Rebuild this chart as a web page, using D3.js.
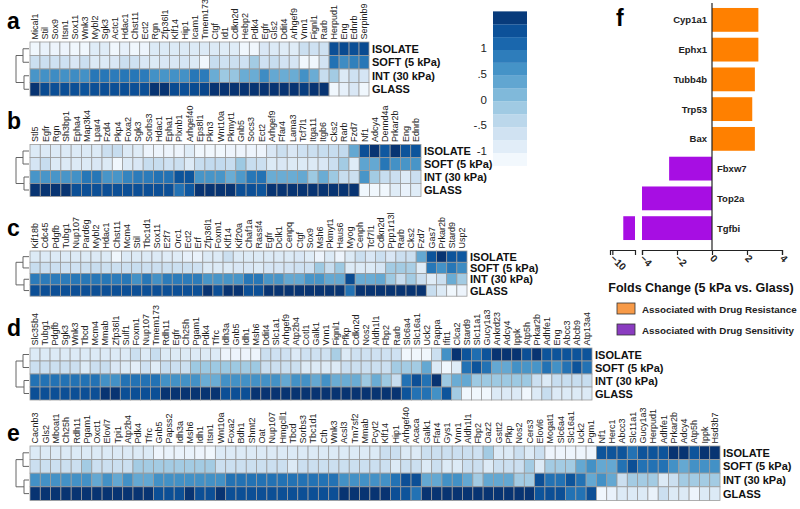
<!DOCTYPE html>
<html><head><meta charset="utf-8">
<script src="https://cdn.jsdelivr.net/npm/d3@7"></script>
<style>body{margin:0;background:#fff}svg{display:block;font-family:Arial,"Liberation Sans",sans-serif}</style>
</head><body><svg id="chart" width="800" height="509"></svg>
<script>
const conditions = ["ISOLATE","SOFT (5 kPa)","INT (30 kPa)","GLASS"];

const genesA = ["Mical1","Stil","Sox9","Itsn1","Sox11","Wnk3","Mybl2","Sgk3","Actc1","Hdac1","Chst11","Ect2","Rgn","Zfp36l1","Klf14","Hip1","Icam1","Tmem173","Ctgf","Id1","Cdkn2d","Hebp2","Pdk4","Egfr","Gls2","Ddit4","Arhgef9","Vnn1","Fignl1","Rarb","Herpud1","Eng","Ednrb","Serpinb9"];
const isolateA = [-1.1,-1.0,-1.05,-1.05,-1.1,-1.1,-0.85,-0.85,-1.1,-0.95,-1.1,-1.05,-0.8,-0.8,-0.8,-0.8,-0.8,-0.8,-0.8,-0.85,-0.85,-1.1,-1.1,-0.75,-0.8,-0.85,-0.85,-0.55,-0.6,-0.6,1.4,1.45,1.4,1.45];
const softA = [-0.55,-0.55,-0.6,-0.6,-0.75,-0.55,-0.8,-0.8,-0.75,-0.55,-0.6,-0.75,-0.8,-0.75,-0.75,-0.7,-0.8,-1.1,-0.5,-0.6,-0.55,-0.6,-0.15,-0.6,-0.5,-0.65,-0.7,-1.1,-1.1,-0.65,1.0,0.7,0.85,0.95];
const intA = [0.6,0.65,0.7,0.65,0.7,0.65,0.95,0.95,0.9,0.95,0.95,0.9,0.65,0.6,0.65,0.65,0.95,0.9,0.3,-0.1,-0.05,0.3,0.3,0.7,0.35,0.3,0.3,0.65,0.3,-0.5,-0.15,-0.8,-0.6,-0.7];
const glassA = [1.7,1.45,1.4,1.4,1.4,1.35,1.4,1.4,1.4,1.4,1.4,1.4,1.7,1.7,1.45,1.4,1.45,1.5,1.7,1.7,1.7,1.7,1.7,1.7,1.7,1.7,1.7,1.6,1.7,1.7,-1.1,-0.95,-0.75,-1.1];

const genesB = ["Stl5","Egfr","Rgn","Sh3bp1","Epha4","Map3k4","Lpar4","Fzd4","Pkp4","Foxa2","Sgk3","Sorbs3","Hdac1","Epha1","Plxnb1","Arhgef40","Eps8l1","Pkn3","Wnt10a","Pkmyt1","Gnb5","Socs3","Ect2","Arhgef9","Ffar4","Lama3","Tcf7l1","Itga11","Itgb6","Cks2","Rarb","Fzd7","Nf1","Adcy4","Dennd4a","Prkar2b","Eng","Ednrb"];
const isolateB = [-0.8,-0.8,-0.8,-0.8,-0.8,-0.8,-0.8,-0.55,-0.5,-0.8,-0.85,-1.05,-1.05,-1.05,-1.05,-0.85,-1.1,-1.1,-1.1,-1.05,-1.05,-1.05,-1.05,-0.75,-0.55,-0.75,-0.6,-0.55,-0.5,-0.5,-0.45,0.35,1.4,1.7,1.3,1.7,1.35,1.35];
const softB = [-0.7,-0.5,-0.8,-0.8,-0.8,-0.8,-0.75,-0.8,-1.1,-0.8,-0.75,-0.5,-0.5,-0.6,-0.55,-0.8,-0.5,-0.45,-0.45,-0.5,-0.1,-0.5,-0.55,-0.8,-0.75,-0.8,-0.8,-0.8,-0.75,-0.55,-0.15,-0.85,0.4,0.35,0.95,0.65,0.6,0.6];
const intB = [0.6,0.6,0.6,0.6,0.65,0.95,0.95,0.6,0.6,0.8,0.9,0.9,1.0,1.0,1.35,1.35,0.6,0.6,0.6,0.3,0.55,0.95,1.0,0.3,0.3,0.3,0.35,-0.1,0.3,-0.1,-0.5,-0.55,0.6,-0.15,-0.5,-0.55,-0.8,-0.55];
const glassB = [1.7,1.7,1.7,1.7,1.4,1.4,1.4,1.4,1.4,1.4,1.4,1.4,1.4,1.4,1.0,1.3,1.7,1.7,1.7,1.7,1.4,1.4,1.35,1.7,1.7,1.7,1.7,1.7,1.7,1.7,1.7,1.7,-1.1,-1.1,-1.1,-0.85,-1.0,-0.85];

const genesC = ["Kif18b","Cdc45","Pdgfb","Tubg1","Nup107","Pard6g","Mybl2","Hdac1","Chst11","Mcm4","Stil","Tbc1d1","Sox11","E2f7","Orc1","Ect2","Erf","Zfp36l1","Foxm1","Klf14","Kif20a","Chaf1a","Rassf4","Egfr","Dclk1","Cenpq","Ctgf","Sox9","Msh6","Pkmyt1","Haus6","Myog","Cenph","Tcf7l1","Cdkn2d","Ppp1r13l","Rarb","Cks2","Fzd7","Gas7","Prkar2b","Stard9","Usp2"];
const isolateC = [-0.8,-0.8,-0.8,-0.8,-0.8,-0.8,-0.8,-0.8,-1.1,-0.8,-0.8,-0.8,-0.8,-0.85,-0.85,-0.95,-1.0,-0.8,-0.8,-0.55,-0.8,-0.8,-0.8,-0.8,-0.8,-0.8,-0.75,-0.85,-1.05,-0.8,-1.05,-0.8,-0.55,-0.75,-0.55,-0.75,-0.55,-0.55,0.35,1.35,1.7,1.35,1.3];
const softC = [-0.5,-0.55,-0.55,-0.6,-0.6,-0.55,-0.5,-0.55,-0.55,-0.55,-0.5,-0.55,-0.55,-0.55,-0.55,-0.55,-0.6,-0.8,-0.8,-0.8,-0.75,-0.75,-0.8,-0.7,-0.7,-0.65,-0.6,-0.6,-0.1,-0.5,-0.1,-0.8,-0.8,-0.8,-0.7,-0.15,-0.15,-0.2,-0.85,0.95,0.65,0.95,0.7];
const intC = [0.9,0.9,0.9,0.9,0.95,0.95,0.95,0.95,0.9,0.95,0.65,0.95,0.65,0.9,0.9,0.9,0.9,0.6,0.6,0.6,0.6,0.95,0.95,0.6,0.6,0.35,0.35,0.6,0.6,0.35,0.35,1.45,0.3,0.3,0.35,-0.1,-0.5,-0.15,-0.55,-0.85,-0.55,0.3,-0.15];
const glassC = [1.4,1.4,1.4,1.4,1.4,1.4,1.4,1.4,1.4,1.4,1.4,1.4,1.4,1.4,1.4,1.4,1.4,1.7,1.4,1.7,1.7,1.4,1.4,1.7,1.7,1.7,1.7,1.7,1.7,1.7,1.7,1.0,1.7,1.7,1.7,1.7,1.7,1.7,1.7,-0.5,-0.8,-1.1,-1.05];

const genesD = ["Slc35b4","Tubg1","Pdgfb","Sgk3","Wnk3","Tbcd","Mcm4","Mmab","Zfp36l1","Sulf1","Foxm1","Nup107","Tmem173","Rdh11","Egfr","Ch25h","Pgam1","Pdk4","Tfrc","Idh3a","Gnb5","Idh1","Msh6","Ddit4","Slc1a1","Arhgef9","Atp2b4","Cotl1","Galk1","Vnn1","Fignl1","Pfkp","Cdkn2d","Nos2","Aldh1l1","Fbp2","Rarb","Slc6a4","Slc16a1","Uck2","Pappa","Ifit1","Clca2","Stard9","Slc11a1","Gucy1a3","Ankrd23","Adcy4","Ippk","Atp5h","Prkar2b","Adhfe1","Eng","Abcc3","Abcb9","Atp13a4"];
const isolateD = [-0.8,-0.8,-0.8,-0.8,-0.8,-0.8,-0.8,-0.8,-0.8,-0.8,-0.55,-0.8,-0.5,-0.8,-0.8,-0.8,-0.8,-0.8,-0.8,-1.05,-1.05,-1.05,-1.05,-0.55,-0.6,-0.6,-0.8,-0.6,-0.6,-0.6,-0.2,-0.8,-0.6,-0.6,-0.6,-0.6,-0.6,-1.1,-1.1,-1.1,-0.55,0.65,1.7,1.35,1.05,1.35,1.7,1.7,1.7,1.4,1.7,1.35,1.35,1.35,1.35,1.35];
const softD = [-0.55,-0.55,-0.55,-0.55,-0.55,-0.8,-0.55,-0.5,-0.75,-0.8,-0.9,-0.6,-0.85,-0.5,-0.55,-0.55,-0.1,-0.1,-0.1,-0.1,-0.1,-0.15,-0.1,-0.55,-0.55,-0.55,-0.55,-0.8,-0.8,-0.8,-0.8,-0.55,-0.55,-0.55,-0.55,-0.55,-0.15,-0.15,-0.15,0.35,-0.8,-1.1,-0.85,1.0,1.35,1.0,0.35,0.35,0.65,0.6,0.6,1.0,0.65,1.0,1.35,1.0];
const intD = [1.0,1.0,1.0,1.0,1.0,1.0,1.0,0.65,0.65,1.0,1.0,1.0,1.0,0.65,0.65,0.65,0.65,0.3,0.3,0.65,0.65,0.65,0.65,0.65,0.65,0.35,0.65,0.65,0.35,0.65,0.3,0.3,0.3,-0.1,0.3,-0.1,-0.5,1.0,1.4,1.0,1.7,-0.1,0.3,0.35,-0.1,-0.1,-0.1,-0.1,-0.1,-0.1,-0.55,-0.8,-0.5,-0.5,-0.5,-0.5];
const glassD = [1.4,1.4,1.4,1.4,1.4,1.4,1.4,1.7,1.7,1.4,1.4,1.4,1.4,1.7,1.7,1.7,1.7,1.7,1.7,1.4,1.4,1.4,1.7,1.7,1.7,1.7,1.7,1.7,1.7,1.7,1.7,1.7,1.7,1.7,1.7,1.7,1.7,1.35,1.0,1.0,0.65,1.35,-0.15,-1.1,-1.1,-1.1,-0.8,-0.8,-0.8,-1.1,-0.8,-0.5,-0.8,-0.8,-0.8,-0.8];

const genesE = ["Cacnb3","Gls2","Mboat1","Ch25h","Rdh11","Pgam1","Oxct1","Elovl7","Tpi1","Atp2b4","Pdk4","Tfrc","Gnb5","Papss2","Idh3a","Msh6","Idh1","Itsn1","Wnt10a","Foxa2","Bdh1","Shmt2","Oat","Nup107","Hmgcll1","Tbcd","Sorbs3","Tbc1d1","Cth","Wnk3","Acsl3","Tm7sf2","Mmab","Pcyt2","Klf14","Hip1","Arhgef40","Acaca","Galk1","Ffar4","Gys1","Vnn1","Aldh1l1","Fbp2","Oaz2","Gstt2","Pfkp","Nos2","Cers3","Elovl6","Mogat1","Slc6a4","Slc16a1","Uck2","Pgm1","Nf1","Herc1","Abcc3","Slc11a1","Gucy1a3","Herpud1","Adhfe1","Prkar2b","Adcy4","Atp5h","Ippk","Hsd3b7"];
const isolateE = [-0.8,-0.8,-0.8,-0.8,-0.8,-0.8,-0.8,-0.8,-0.8,-0.8,-0.8,-0.8,-1.05,-1.0,-1.0,-1.0,-1.05,-1.1,-0.8,-0.8,-0.8,-0.8,-0.8,-0.8,-0.8,-0.8,-0.8,-0.8,-0.8,-0.8,-0.8,-0.8,-0.8,-0.8,-0.55,-0.55,-0.8,-0.8,-0.55,-0.55,-0.55,-0.55,-0.55,-0.6,-0.15,-0.8,-0.8,-0.55,-0.8,-0.55,-1.05,-1.05,-1.05,-1.05,-1.05,1.35,1.35,1.35,1.0,1.35,1.35,1.35,1.7,1.7,1.35,1.7,1.7];
const softE = [-0.55,-0.55,-0.55,-0.55,-0.55,-0.15,-0.55,-0.55,-0.55,-0.55,-0.15,-0.15,-0.15,-0.15,-0.15,-0.15,-0.15,-0.15,-0.55,-0.55,-0.55,-0.55,-0.55,-0.55,-0.55,-0.8,-0.55,-0.55,-0.55,-0.55,-0.55,-0.55,-0.55,-0.55,-0.55,-0.8,-0.55,-0.55,-0.8,-0.55,-0.8,-0.8,-0.55,-0.55,-0.8,-0.55,-0.55,-0.55,-0.15,-0.8,-0.15,-0.15,-0.15,0.35,0.65,0.35,0.35,1.0,1.4,1.0,1.0,1.0,0.65,0.35,0.65,0.65,0.65];
const intE = [0.65,0.65,0.65,0.65,0.65,0.65,0.35,0.65,0.35,0.65,0.35,0.35,0.65,0.65,0.65,0.65,0.65,0.65,0.65,1.0,1.0,1.0,1.0,1.0,1.0,1.0,1.0,1.0,1.0,1.0,0.65,0.65,0.65,0.65,0.65,1.0,1.4,1.4,0.35,0.35,0.65,0.65,0.35,-0.15,0.35,0.35,0.35,-0.15,-0.15,1.4,1.0,1.0,1.35,1.0,0.35,0.65,0.35,-0.55,-0.15,-0.15,-0.15,-0.8,-0.55,-0.15,-0.15,-0.15,-0.15];
const glassE = [1.7,1.7,1.7,1.7,1.7,1.7,1.7,1.7,1.7,1.7,1.7,1.7,1.4,1.4,1.4,1.7,1.4,1.4,1.7,1.4,1.4,1.4,1.4,1.4,1.4,1.4,1.4,1.4,1.4,1.4,1.7,1.7,1.7,1.7,1.7,1.4,1.35,1.0,1.7,1.7,1.7,1.7,1.7,1.7,1.7,1.7,1.7,1.7,1.7,1.35,1.4,1.4,1.0,1.0,1.4,-1.1,-1.0,-0.8,-0.8,-0.8,-1.0,-0.55,-0.8,-0.8,-1.05,-0.8,-0.8];

const colorbarTicks = [1, 0.5, 0, -0.5, -1];
const colorbarTickLabels = ["1", ".5", "0", "-.5", "-1"];
const colorbarSteps = [-1.25,-1.0,-0.75,-0.5,-0.25,0,0.25,0.5,0.75,1.0,1.25,1.5,1.75];

const fCategories = ["Cyp1a1","Ephx1","Tubb4b","Trp53","Bax","Fbxw7","Top2a","Tgfbi"];
const fValues = [2.65, 2.65, 2.45, 2.3, 2.45, -2.45, -4.5, -8.6];
const fGroups = ["res","res","res","res","res","sens","sens","sens"];
const fTicksMain = [-4,-2,0,2,4];
const fTicksBroken = [-10];
const fLegend = ["Associated with Drug Resistance","Associated with Drug Sensitivity"];
const fAxisTitle = "Folds Change (5 kPa vs. Glass)";

// ---------------- drawing ----------------
const svg = d3.select("#chart");
const color = d3.scaleSequential(d3.interpolateBlues).domain([-1.2, 1.75]).clamp(true);

const panels = [
  {letter:"a", genes:genesA, rows:[isolateA,softA,intA,glassA], x0:30, x1:369, top:42, rowH:13.5, letterY:29},
  {letter:"b", genes:genesB, rows:[isolateB,softB,intB,glassB], x0:30, x1:421, top:144.5, rowH:13, letterY:129},
  {letter:"c", genes:genesC, rows:[isolateC,softC,intC,glassC], x0:30, x1:467, top:251, rowH:11.3, letterY:236},
  {letter:"d", genes:genesD, rows:[isolateD,softD,intD,glassD], x0:30, x1:592, top:348, rowH:13, letterY:336},
  {letter:"e", genes:genesE, rows:[isolateE,softE,intE,glassE], x0:30, x1:720, top:446, rowH:13.6, letterY:441}
];

panels.forEach(p => {
  const g = svg.append("g");
  const x = d3.scaleBand().domain(p.genes).range([p.x0, p.x1]);
  const y = d3.scaleBand().domain(conditions).range([p.top, p.top + 4*p.rowH]);
  const cells = [];
  p.rows.forEach((row, ri) => row.forEach((v, gi) => cells.push({gene:p.genes[gi], cond:conditions[ri], v})));
  g.selectAll("rect.cell").data(cells).join("rect")
    .attr("x", d => x(d.gene)).attr("y", d => y(d.cond))
    .attr("width", x.bandwidth()).attr("height", y.bandwidth())
    .attr("fill", d => color(d.v)).attr("stroke", "#9b9b9b").attr("stroke-width", 0.8);
  g.selectAll("text.gene").data(p.genes).join("text")
    .attr("transform", d => `translate(${x(d) + x.bandwidth()/2 + 3.2},${p.top - 2.5}) rotate(-90)`)
    .attr("font-size", 9).attr("fill", "#222").text(d => d);
  g.selectAll("text.cond").data(conditions).join("text")
    .attr("x", p.x1 + 3).attr("y", d => y(d) + y.bandwidth()/2 + 4)
    .attr("font-size", 11).attr("font-weight", "bold").attr("fill", "#111").text(d => d);
  const cy = conditions.map(c => y(c) + y.bandwidth()/2);
  const j1 = 23, j2 = 24, root = 16, leaf = p.x0 - 1;
  const m1 = (cy[0]+cy[1])/2, m2 = (cy[2]+cy[3])/2;
  const path = d3.path();
  path.moveTo(leaf, cy[0]); path.lineTo(j1, cy[0]); path.lineTo(j1, cy[1]); path.lineTo(leaf, cy[1]);
  path.moveTo(leaf, cy[2]); path.lineTo(j2, cy[2]); path.lineTo(j2, cy[3]); path.lineTo(leaf, cy[3]);
  path.moveTo(j1, m1); path.lineTo(root, m1); path.lineTo(root, m2); path.lineTo(j2, m2);
  g.append("path").attr("d", path.toString()).attr("fill", "none").attr("stroke", "#666").attr("stroke-width", 1);
  g.append("text").attr("x", 7).attr("y", p.letterY).attr("font-size", 23).attr("font-weight", "bold").text(p.letter);
});

// colorbar
const cbScale = d3.scaleLinear().domain([-1, 1]).range([153, 50]);
const cb = svg.append("g");
const bands = d3.pairs(colorbarSteps);
cb.selectAll("rect").data(bands).join("rect")
  .attr("x", 493).attr("width", 34)
  .attr("y", d => cbScale(d[1])).attr("height", d => cbScale(d[0]) - cbScale(d[1]))
  .attr("fill", d => color((d[0]+d[1])/2));
cb.selectAll("text").data(colorbarTicks).join("text")
  .attr("x", 487).attr("y", d => cbScale(d) + 2).attr("text-anchor", "end")
  .attr("font-size", 11.5).attr("fill", "#222").text((d,i) => colorbarTickLabels[i]);

// panel f
const fg = svg.append("g");
const orange = "#ff8000", purple = "#a70ee3";
const yF = d3.scaleBand().domain(fCategories).range([5, 243]).paddingInner(0.2).paddingOuter(0.1);
const xMain = d3.scaleLinear().domain([-4, 4]).range([642, 782]);
const xBrk = d3.scaleLinear().domain([-10.3, -7.1]).range([610, 635]);
const axisY = 250;

fCategories.forEach((c, i) => {
  const v = fValues[i], col = fGroups[i] === "res" ? orange : purple;
  const lo = Math.max(Math.min(v, 0), xMain.domain()[0]);
  const hi = Math.max(v, 0);
  fg.append("rect").attr("x", xMain(lo)).attr("y", yF(c)).attr("width", xMain(hi) - xMain(lo))
    .attr("height", yF.bandwidth()).attr("fill", col);
  if (v < xBrk.domain()[1]) {
    fg.append("rect").attr("x", xBrk(v)).attr("y", yF(c)).attr("width", xBrk(xBrk.domain()[1]) - xBrk(v))
      .attr("height", yF.bandwidth()).attr("fill", col);
  }
  fg.append("text")
    .attr("x", v >= 0 ? xMain(0) - 5 : xMain(0) + 5)
    .attr("y", yF(c) + yF.bandwidth()/2 + 3.5)
    .attr("text-anchor", v >= 0 ? "end" : "start")
    .attr("font-size", 9.5).attr("font-weight", "bold").attr("fill", "#222").text(c);
});
fg.append("line").attr("x1", xMain(0)).attr("x2", xMain(0)).attr("y1", 3).attr("y2", axisY)
  .attr("stroke", "#222").attr("stroke-width", 1.2);
const axMain = fg.append("g").attr("transform", `translate(0,${axisY})`)
  .call(d3.axisBottom(xMain).tickValues(fTicksMain).tickSize(5).tickSizeOuter(5).tickFormat(d3.format("d")));
const axBrk = fg.append("g").attr("transform", `translate(0,${axisY})`)
  .call(d3.axisBottom(xBrk).tickValues(fTicksBroken).tickSize(5).tickSizeOuter(5).tickFormat(d3.format("d")));
[axMain, axBrk].forEach(ax => {
  ax.select(".domain").attr("stroke", "#222").attr("stroke-width", 1.2);
  ax.selectAll(".tick line").attr("stroke", "#222").attr("stroke-width", 1.2);
  ax.selectAll(".tick text").attr("font-size", 10).attr("font-weight", "bold").attr("fill", "#222")
    .attr("text-anchor", "start").attr("dy", null).attr("y", null)
    .attr("transform", "translate(-3,9) rotate(45)");
});
fg.append("text").attr("x", 701).attr("y", 292).attr("text-anchor", "middle")
  .attr("font-size", 12.5).attr("font-weight", "bold").attr("fill", "#111").text(fAxisTitle);
const legColors = ["#f79a48", "#8a3cc0"];
fLegend.forEach((t, i) => {
  fg.append("rect").attr("x", 617).attr("y", 303 + i*21).attr("width", 18).attr("height", 11)
    .attr("fill", legColors[i]).attr("stroke", "#333").attr("stroke-width", 0.8);
  fg.append("text").attr("x", 642).attr("y", 312.5 + i*21).attr("font-size", 9.8).attr("font-weight", "bold")
    .attr("fill", "#222").text(t);
});
fg.append("text").attr("x", 616).attr("y", 26).attr("font-size", 23).attr("font-weight", "bold").text("f");
</script></body></html>
